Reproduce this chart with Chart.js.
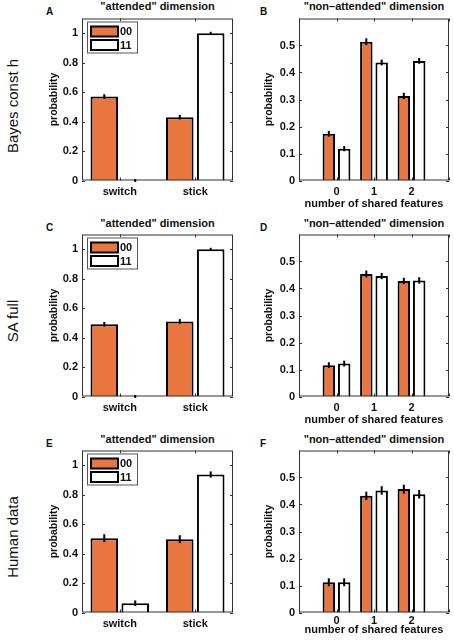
<!DOCTYPE html>
<html>
<head>
<meta charset="utf-8">
<script src="https://cdn.jsdelivr.net/npm/chart.js@4"></script>
<style>
  html, body { margin: 0; padding: 0; background: #fff; }
  body { width: 454px; height: 643px; position: relative; overflow: hidden;
         font-family: "Liberation Sans", Arial, Helvetica, sans-serif; }
  canvas { position: absolute; }
  .ttl { position: absolute; text-align: center; font-weight: bold; font-size: 11px; line-height: 13px; color: #111; }
  .let { position: absolute; font-weight: bold; font-size: 10px; line-height: 12px; color: #111; }
  .row { position: absolute; width: 140px; height: 18px; line-height: 18px; text-align: center;
         font-size: 15px; color: #111; transform: rotate(-90deg); }
</style>
</head>
<body>
<div class="row" style="left:-57px; top:97px;">Bayes const h</div>
<div class="row" style="left:-57px; top:312px;">SA full</div>
<div class="row" style="left:-57px; top:528px;">Human data</div>

<div class="let" style="left:46px; top:6px;">A</div>
<div class="let" style="left:260px; top:6px;">B</div>
<div class="let" style="left:46px; top:222px;">C</div>
<div class="let" style="left:260px; top:222px;">D</div>
<div class="let" style="left:46px; top:438px;">E</div>
<div class="let" style="left:260px; top:438px;">F</div>

<div class="ttl" style="left:82px; width:151px; top:0px;">"attended" dimension</div>
<div class="ttl" style="left:299px; width:150px; top:0px;">"non–attended" dimension</div>
<div class="ttl" style="left:82px; width:151px; top:217px;">"attended" dimension</div>
<div class="ttl" style="left:299px; width:150px; top:217px;">"non–attended" dimension</div>
<div class="ttl" style="left:82px; width:151px; top:433px;">"attended" dimension</div>
<div class="ttl" style="left:299px; width:150px; top:433px;">"non–attended" dimension</div>

<canvas id="cA" width="197" height="215" style="left:40px; top:0px;"></canvas>
<canvas id="cB" width="204" height="215" style="left:250px; top:0px;"></canvas>
<canvas id="cC" width="197" height="215" style="left:40px; top:216px;"></canvas>
<canvas id="cD" width="204" height="215" style="left:250px; top:216px;"></canvas>
<canvas id="cE" width="197" height="211" style="left:40px; top:432px;"></canvas>
<canvas id="cF" width="204" height="211" style="left:250px; top:432px;"></canvas>

<script>
// categories and series
var attendedCats = ['switch', 'stick'];
var sharedCats = [0, 1, 2];
var seriesNames = ['00', '11'];
var attendedTicks = [0, 0.2, 0.4, 0.6, 0.8, 1];
var sharedTicks = [0, 0.1, 0.2, 0.3, 0.4, 0.5];

// Bayes const h
var bayesAtt00 = [0.57, 0.43];
var bayesAtt11 = [0.0, 1.0];
var bayesAttErr00 = [0.009, 0.009];
var bayesAttErr11 = [0.003, 0.003];
var bayesNon00 = [0.173, 0.514, 0.313];
var bayesNon11 = [0.118, 0.437, 0.443];
var bayesNonErr00 = [0.007, 0.009, 0.008];
var bayesNonErr11 = [0.006, 0.007, 0.007];

// SA full
var saAtt00 = [0.49, 0.51];
var saAtt11 = [0.0, 1.0];
var saAttErr00 = [0.009, 0.009];
var saAttErr11 = [0.003, 0.003];
var saNon00 = [0.116, 0.454, 0.428];
var saNon11 = [0.122, 0.446, 0.430];
var saNonErr00 = [0.007, 0.009, 0.008];
var saNonErr11 = [0.007, 0.008, 0.008];

// Human data
var humAtt00 = [0.505, 0.498];
var humAtt11 = [0.063, 0.937];
var humAttErr00 = [0.02, 0.02];
var humAttErr11 = [0.012, 0.014];
var humNon00 = [0.112, 0.432, 0.457];
var humNon11 = [0.112, 0.452, 0.438];
var humNonErr00 = [0.011, 0.012, 0.013];
var humNonErr11 = [0.011, 0.012, 0.012];

var ORANGE = '#E8763E';
var FONT = '"Liberation Sans", Arial, Helvetica, sans-serif';

// box with inward ticks on all sides (matlab style)
var framePlugin = {
    id: 'frame',
    afterDatasetsDraw: function(chart) {
	var ctx = chart.ctx, ca = chart.chartArea;
	var xs = chart.scales.x, ys = chart.scales.y;
	ctx.save();
	ctx.strokeStyle = '#333';
	ctx.lineWidth = 1;
	ctx.strokeRect(ca.left + 0.5, ca.top + 0.5, ca.right - ca.left - 1, ca.bottom - ca.top - 1);
	ctx.beginPath();
	xs.ticks.forEach(function(t, i) {
	    var px = Math.round(xs.getPixelForTick(i)) + 0.5;
	    ctx.moveTo(px, ca.bottom); ctx.lineTo(px, ca.bottom - 3);
	    ctx.moveTo(px, ca.top); ctx.lineTo(px, ca.top + 3);
	});
	ys.ticks.forEach(function(t, i) {
	    var py = Math.round(ys.getPixelForTick(i)) + 0.5;
	    ctx.moveTo(ca.left, py); ctx.lineTo(ca.left + 3, py);
	    ctx.moveTo(ca.right, py); ctx.lineTo(ca.right - 3, py);
	});
	ctx.stroke();
	// error bars
	ctx.strokeStyle = '#000';
	ctx.lineWidth = 2;
	chart.data.datasets.forEach(function(ds, di) {
	    var meta = chart.getDatasetMeta(di);
	    meta.data.forEach(function(bar, j) {
		var v = ds.values[j], e = ds.errors[j];
		ctx.beginPath();
		ctx.moveTo(bar.x, ys.getPixelForValue(v - e) + 1);
		ctx.lineTo(bar.x, ys.getPixelForValue(v + e) - 1);
		ctx.stroke();
	    });
	});
	ctx.restore();
    }
};

// boxed legend in the top left corner
var boxLegend = {
    id: 'boxLegend',
    afterDraw: function(chart) {
	if (!chart.options.plugins.boxLegend.show) return;
	var ctx = chart.ctx, ca = chart.chartArea;
	var x0 = ca.left + 5, y0 = ca.top + 3;
	ctx.save();
	ctx.fillStyle = '#fff';
	ctx.fillRect(x0, y0, 50, 31);
	ctx.strokeStyle = '#555';
	ctx.lineWidth = 1;
	ctx.strokeRect(x0 + 0.5, y0 + 0.5, 50, 31);
	chart.data.datasets.forEach(function(ds, i) {
	    var sy = y0 + 5 + i * 13.5;
	    ctx.fillStyle = ds.backgroundColor;
	    ctx.fillRect(x0 + 4, sy, 27, 10);
	    ctx.strokeStyle = '#000';
	    ctx.lineWidth = 2;
	    ctx.strokeRect(x0 + 4, sy, 27, 10);
	    ctx.fillStyle = '#111';
	    ctx.font = 'bold 11px ' + FONT;
	    ctx.textBaseline = 'middle';
	    ctx.fillText(ds.label, x0 + 33, sy + 5.5);
	});
	ctx.restore();
    }
};

function mkSets(v00, v11, e00, e11, shared) {
    function pts(v) {
	if (!shared) return v;
	return v.map(function(y, i) { return {x: sharedCats[i], y: y}; });
    }
    return [
	{ label: seriesNames[0], data: pts(v00), values: v00, errors: e00,
	  backgroundColor: ORANGE, borderColor: '#000', borderWidth: 2 },
	{ label: seriesNames[1], data: pts(v11), values: v11, errors: e11,
	  backgroundColor: '#fff', borderColor: '#000', borderWidth: 2 }
    ];
}

function yScale(maxV, tickVals, yw, titlePad) {
    return {
	min: 0, max: maxV,
	afterBuildTicks: function(s) { s.ticks = tickVals.map(function(v) { return {value: v}; }); },
	afterFit: function(s) { s.width = yw; },
	grid: { display: false, drawTicks: false },
	border: { display: false },
	ticks: { color: '#111', padding: 4, font: { family: FONT, size: 11, weight: 'bold' },
		 callback: function(v) { return String(Math.round(v * 10) / 10); } },
	title: { display: true, text: 'probability', color: '#111', padding: { top: titlePad, bottom: 0 },
		 font: { family: FONT, size: 10.5, weight: 'bold' } }
    };
}

function makeAttended(id, v00, v11, e00, e11, xh) {
    return new Chart(document.getElementById(id), {
	type: 'bar',
	data: { labels: attendedCats, datasets: mkSets(v00, v11, e00, e11, false) },
	options: {
	    responsive: false, animation: false,
	    layout: { padding: { top: 18.5, right: 4, left: 0, bottom: 0 } },
	    datasets: { bar: { categoryPercentage: 0.82, barPercentage: 0.89 } },
	    plugins: { legend: { display: false }, tooltip: { enabled: false }, boxLegend: { show: true } },
	    scales: {
		x: {
		    afterFit: function(s) { s.height = xh; },
		    grid: { display: false, drawTicks: false },
		    border: { display: false },
		    ticks: { color: '#111', padding: 5, font: { family: FONT, size: 11, weight: 'bold' } }
		},
		y: yScale(1.1, attendedTicks, 42, 8)
	    }
	},
	plugins: [framePlugin, boxLegend]
    });
}

function makeShared(id, v00, v11, e00, e11, xh, tp, bp) {
    return new Chart(document.getElementById(id), {
	type: 'bar',
	data: { datasets: mkSets(v00, v11, e00, e11, true) },
	options: {
	    responsive: false, animation: false,
	    layout: { padding: { top: 18.5, right: 5, left: 0, bottom: 0 } },
	    datasets: { bar: { categoryPercentage: 0.82, barPercentage: 0.81 } },
	    plugins: { legend: { display: false }, tooltip: { enabled: false }, boxLegend: { show: false } },
	    scales: {
		x: {
		    type: 'linear', min: -1, max: 3, offset: false,
		    afterBuildTicks: function(s) { s.ticks = [-1, 0, 1, 2, 3].map(function(v) { return {value: v}; }); },
		    afterFit: function(s) { s.height = xh; },
		    grid: { display: false, drawTicks: false },
		    border: { display: false },
		    ticks: { color: '#111', padding: tp, font: { family: FONT, size: 11, weight: 'bold' },
			     callback: function(v) { return sharedCats.indexOf(v) >= 0 ? String(v) : ''; } },
		    title: { display: true, text: 'number of shared features', color: '#111',
			     padding: { top: 0, bottom: bp }, font: { family: FONT, size: 11, weight: 'bold' } }
		},
		y: yScale(0.6, sharedTicks, 49, 13)
	    }
	},
	plugins: [framePlugin, boxLegend]
    });
}

makeAttended('cA', bayesAtt00, bayesAtt11, bayesAttErr00, bayesAttErr11, 34.5);
makeShared('cB', bayesNon00, bayesNon11, bayesNonErr00, bayesNonErr11, 34.5, 5, 4);
makeAttended('cC', saAtt00, saAtt11, saAttErr00, saAttErr11, 34.5);
makeShared('cD', saNon00, saNon11, saNonErr00, saNonErr11, 34.5, 5, 4);
makeAttended('cE', humAtt00, humAtt11, humAttErr00, humAttErr11, 30.5);
makeShared('cF', humNon00, humNon11, humNonErr00, humNonErr11, 30.5, 2, 6);
</script>
</body>
</html>
